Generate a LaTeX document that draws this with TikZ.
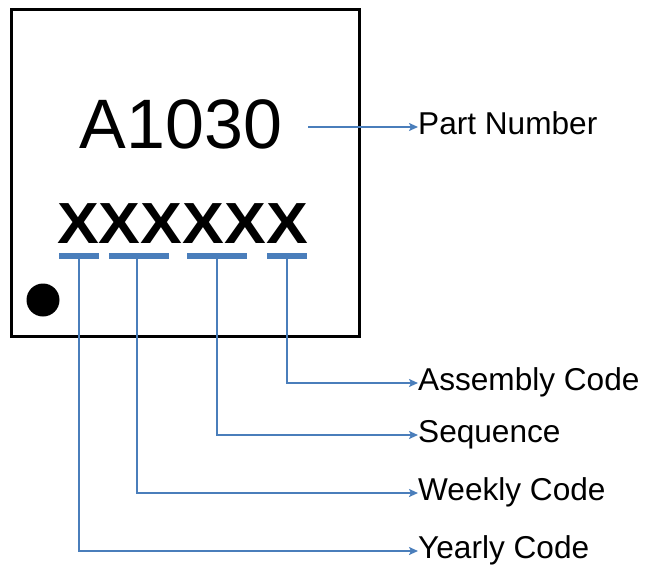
\documentclass[tikz,border=0pt]{standalone}
\usepackage{fontspec}
\setmainfont{Liberation Sans}
\usetikzlibrary{arrows.meta}
\definecolor{lineblue}{HTML}{4A7EBB}
\begin{document}
\begin{tikzpicture}[x=1pt,y=-1pt,
  conn/.style={draw=lineblue, line width=2.8pt, -{Stealth[length=9pt,width=8pt,inset=2pt]}},
  markbar/.style={draw=lineblue, line width=6pt},
  lbl/.style={anchor=west, inner sep=0pt, text height=22pt, text depth=7pt, font=\fontsize{31.6}{32}\selectfont}]
\useasboundingbox (0,0) rectangle (645,571);
% chip body
\node[draw, line width=3pt, minimum width=348pt, minimum height=327pt, inner sep=0pt, anchor=north west] (chip) at (10,7.5) {};
\node[anchor=base, inner sep=0pt, font=\fontsize{70}{70}\selectfont] (pn) at (181,148) {A1030};
\node[anchor=base, inner sep=0pt, font=\fontsize{58}{58}\selectfont\bfseries, xscale=1.08] (code) at (182.5,243) {XXXXXX};
\fill (43,300) circle (16.5pt);
% underline bars
\draw[markbar] (59,256) coordinate (y0) -- (99,256) coordinate (y1);
\draw[markbar] (109,256) coordinate (w0) -- (169,256) coordinate (w1);
\draw[markbar] (187,256) coordinate (s0) -- (247,256) coordinate (s1);
\draw[markbar] (267,256) coordinate (a0) -- (307,256) coordinate (a1);
\coordinate (yc) at (79,256);
\coordinate (wc) at (137,256);
\coordinate (sc) at (217,256);
\coordinate (ac) at (287,256);
\coordinate (pnr) at (308,127);
% labels
\node[lbl] (lpart) at (418,127) {Part Number};
\node[lbl] (lasm) at (418,383) {Assembly Code};
\node[lbl] (lseq) at (418,435) {Sequence};
\node[lbl] (lweek) at (418,493) {Weekly Code};
\node[lbl] (lyear) at (418,551) {Yearly Code};
% connectors
\draw[conn] (pnr) -- (lpart.west);
\draw[conn] (ac) |- (lasm.west);
\draw[conn] (sc) |- (lseq.west);
\draw[conn] (wc) |- (lweek.west);
\draw[conn] (yc) |- (lyear.west);
\end{tikzpicture}
\end{document}
